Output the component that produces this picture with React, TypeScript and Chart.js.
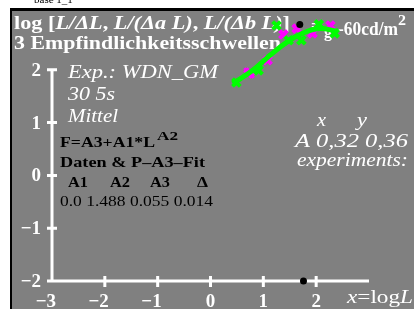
import React, { useEffect, useRef } from "react";
import { Chart, registerables } from "chart.js";

Chart.register(...registerables);

const curveX = [0.42, 0.8, 1.12, 1.44, 1.74, 2.06, 2.39];
const curveY = [1.74, 1.99, 2.27, 2.52, 2.69, 2.78, 2.73];

const greenX = [0.49, 0.91, 1.25, 1.48, 1.72, 2.05, 2.35];
const greenY = [1.76, 1.99, 2.84, 2.56, 2.56, 2.86, 2.69];

const magentaX = [1.08, 1.38, 1.63, 1.93, 2.27];
const magentaY = [2.18, 2.67, 2.78, 2.69, 2.84];

const magentaSmallX = [0.68, 0.78];
const magentaSmallY = [1.99, 1.89];

const blackX = [1.69, 1.76];
const blackY = [2.86, -2.0];

const xTicks = [-3, -2, -1, 0, 1, 2];
const yTicks = [-2, -1, 0, 1, 2];
const xTickLabels = ["\u22123", "\u22122", "\u22121", "0", "1", "2"];
const yTickLabels = ["\u22122", "\u22121", "0", "1", "2"];

const fitHeaders = ["A1", "A2", "A3", "\u0394"];
const fitValues = "0.0 1.488 0.055 0.014";

const SERIF = '"Liberation Serif", "Times New Roman", serif';

function pts(xs: number[], ys: number[]) {
  return xs.map((x, i) => ({ x, y: ys[i] }));
}

type Seg = [string, string];

function drawFit(
  ctx: CanvasRenderingContext2D,
  segs: Seg[],
  x: number,
  y: number,
  color: string,
  targetW?: number
) {
  ctx.save();
  ctx.fillStyle = color;
  ctx.textAlign = "left";
  ctx.textBaseline = "alphabetic";
  let total = 0;
  for (const [t, f] of segs) {
    ctx.font = f;
    total += ctx.measureText(t).width;
  }
  const sx = targetW ? targetW / total : 1;
  ctx.translate(x, y);
  ctx.scale(sx, 1);
  let cx = 0;
  for (const [t, f] of segs) {
    ctx.font = f;
    ctx.fillText(t, cx, 0);
    cx += ctx.measureText(t).width;
  }
  ctx.restore();
  return x + total * sx;
}

const decor = {
  id: "decor",
  beforeDatasetsDraw(chart: any) {
    const ctx: CanvasRenderingContext2D = chart.ctx;
    const W = chart.width;
    const H = chart.height;
    const xs = chart.scales.x;
    const ys = chart.scales.y;
    ctx.save();
    // background
    ctx.fillStyle = "#ffffff";
    ctx.fillRect(0, 0, W, H);
    ctx.fillStyle = "#000000";
    ctx.fillRect(10, 8, W - 10, H - 8);
    ctx.fillStyle = "#808080";
    ctx.fillRect(12, 11, W - 12, H - 11);

    // tiny clipped header text
    ctx.fillStyle = "#000";
    ctx.font = `11px ${SERIF}`;
    ctx.fillText("base 1_1", 34, 3);

    const B = (s: number) => `bold ${s}px ${SERIF}`;
    const BI = (s: number) => `italic bold ${s}px ${SERIF}`;
    const I = (s: number) => `italic ${s}px ${SERIF}`;
    const N = (s: number) => `${s}px ${SERIF}`;

    // title
    drawFit(ctx, [
      ["log [", B(19)], ["L/\u0394L", BI(19)], [", ", B(19)], ["L/(\u0394a L)", BI(19)],
      [", ", B(19)], ["L/(\u0394b L)", BI(19)], ["]", B(19)],
    ], 14, 29, "#fff", 276);
    drawFit(ctx, [["3 Empfindlichkeitsschwellen", B(19)]], 14, 49, "#fff", 267);

    drawFit(ctx, [["=", B(17)]], 311, 31, "#fff");
    drawFit(ctx, [["g", B(16)]], 324, 37, "#fff");
    drawFit(ctx, [["-60cd/m", B(18)]], 338, 35, "#fff", 60);
    drawFit(ctx, [["2", B(14)]], 398, 25, "#fff", 8);

    // left texts
    drawFit(ctx, [["Exp.: WDN_GM", I(18)]], 68, 78, "#fff", 150);
    drawFit(ctx, [["30 5s", I(18)]], 68, 100, "#fff", 47);
    drawFit(ctx, [["Mittel", I(18)]], 68, 122, "#fff", 50);
    drawFit(ctx, [["F=A3+A1*L", B(15)]], 60, 147, "#000", 95);
    drawFit(ctx, [["A2", B(13)]], 157, 140, "#000", 21);
    drawFit(ctx, [["Daten & P\u2013A3\u2013Fit", B(15)]], 60, 167, "#000", 145);
    const hx = [68, 110, 150, 197];
    const hw = [20, 20, 20, 11];
    fitHeaders.forEach((h, i) => drawFit(ctx, [[h, B(15)]], hx[i], 187, "#000", hw[i]));
    drawFit(ctx, [[fitValues, N(15)]], 60, 206, "#000", 153);

    // right texts
    drawFit(ctx, [["x", I(19)]], 317, 126, "#fff", 9);
    drawFit(ctx, [["y", I(19)]], 357, 126, "#fff", 10);
    drawFit(ctx, [["A 0,32 0,36", I(19)]], 295, 147, "#fff", 113);
    drawFit(ctx, [["experiments:", I(19)]], 297, 166, "#fff", 111);

    // x label
    drawFit(ctx, [["x", I(19)], ["=log", N(19)], ["L", I(19)]], 347, 303, "#fff", 66);

    // axes
    const x0 = xs.getPixelForValue(-3);
    const x3 = xs.getPixelForValue(3);
    const yB = ys.getPixelForValue(-2);
    const yT = ys.getPixelForValue(2);
    ctx.strokeStyle = "#fff";
    ctx.lineWidth = 3;
    ctx.lineCap = "butt";
    ctx.beginPath();
    ctx.moveTo(x0, yT);
    ctx.lineTo(x0, yB);
    ctx.moveTo(x0 - 1.5, yB);
    ctx.lineTo(x3, yB);
    for (const v of yTicks) {
      const py = ys.getPixelForValue(v);
      ctx.moveTo(x0 - 5, py);
      ctx.lineTo(x0 + 5, py);
    }
    for (const v of xTicks) {
      if (v === -3) continue;
      const px = xs.getPixelForValue(v);
      ctx.moveTo(px, yB - 5);
      ctx.lineTo(px, yB + 6);
    }
    ctx.stroke();

    ctx.fillStyle = "#fff";
    ctx.font = B(19);
    ctx.textBaseline = "middle";
    ctx.textAlign = "right";
    yTicks.forEach((v, i) => {
      ctx.fillText(yTickLabels[i], 41, ys.getPixelForValue(v) + 1);
    });
    ctx.textBaseline = "alphabetic";
    xTicks.forEach((v, i) => {
      const px = xs.getPixelForValue(v);
      if (v < 0) {
        ctx.textAlign = "right";
        ctx.fillText(xTickLabels[i], px + 4, 307);
      } else {
        ctx.textAlign = "center";
        ctx.fillText(xTickLabels[i], px, 307);
      }
    });
    ctx.restore();
  },
};

export default function App() {
  const ref = useRef<HTMLCanvasElement>(null);
  useEffect(() => {
    if (!ref.current) return;
    const chart = new Chart(ref.current, {
      type: "scatter",
      data: {
        datasets: [
          {
            data: pts(blackX, blackY),
            pointStyle: "circle",
            pointRadius: 3.5,
            backgroundColor: "#000",
            borderColor: "#000",
            borderWidth: 0,
            order: 0,
            clip: false,
          } as any,
          {
            data: pts(greenX, greenY),
            pointStyle: "crossRot",
            pointRadius: 5.5,
            borderColor: "#00ff00",
            borderWidth: 4,
            order: 1,
            clip: false,
          },
          {
            data: pts(curveX, curveY),
            showLine: true,
            tension: 0.4,
            pointRadius: 0,
            borderColor: "#00ff00",
            borderWidth: 5,
            order: 2,
            clip: false,
          },
          {
            data: pts(magentaX, magentaY),
            pointStyle: "crossRot",
            pointRadius: 5.5,
            borderColor: "#ff00ff",
            borderWidth: 4,
            order: 3,
            clip: false,
          },
          {
            data: pts(magentaSmallX, magentaSmallY),
            pointStyle: "crossRot",
            pointRadius: 3,
            borderColor: "#ff00ff",
            borderWidth: 3,
            order: 4,
            clip: false,
          },
        ],
      },
      options: {
        animation: false,
        responsive: false,
        layout: { padding: { left: 52, right: 45, top: 17, bottom: 28 } },
        plugins: { legend: { display: false }, tooltip: { enabled: false } },
        scales: {
          x: { type: "linear", min: -3, max: 3, display: false },
          y: { type: "linear", min: -2, max: 3, display: false },
        },
      },
      plugins: [decor],
    });
    return () => chart.destroy();
  }, []);
  return (
    <div style={{ position: "fixed", left: 0, top: 0, width: 414, height: 309 }}>
      <canvas ref={ref} width={414} height={309} style={{ display: "block" }} />
    </div>
  );
}
